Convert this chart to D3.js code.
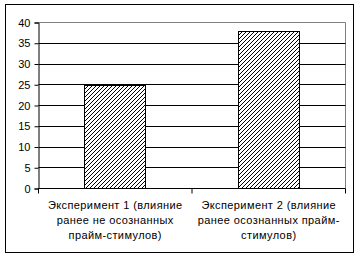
<!DOCTYPE html>
<html>
<head>
<meta charset="utf-8">
<script src="https://cdn.jsdelivr.net/npm/d3@7"></script>
<style>
  body { margin: 0; background: #fff; }
  text { font-family: "Liberation Sans", Arial, sans-serif; }
</style>
</head>
<body>
<div id="chart"></div>
<script>
// data
var categories = [
    ["Эксперимент 1 (влияние", "ранее не осознанных", "прайм-стимулов)"],
    ["Эксперимент 2 (влияние", "ранее осознанных прайм-", "стимулов)"]
];
var values = [24.8, 37.9];
var yTicks = [0, 5, 10, 15, 20, 25, 30, 35, 40];

var W = 360, H = 258;
var margin = { top: 22.5, right: 14.5, bottom: 69.5, left: 38.5 },
    width = W - margin.left - margin.right,
    height = H - margin.top - margin.bottom;

var svg = d3.select("#chart").append("svg")
    .attr("width", W)
    .attr("height", H);

// hatch pattern: 1px staircase "/" lines, 4px apart, aligned to device pixels
var pat = svg.append("defs").append("pattern")
    .attr("id", "hatch")
    .attr("patternUnits", "userSpaceOnUse")
    .attr("x", 0.5).attr("y", 0.5)
    .attr("width", 4)
    .attr("height", 4);
pat.append("rect").attr("width", 4).attr("height", 4).attr("fill", "#fff");
pat.selectAll(".px")
    .data([0, 1, 2, 3])
    .enter()
    .append("rect")
    .attr("x", function (d) { return d; })
    .attr("y", function (d) { return 3 - d; })
    .attr("width", 1).attr("height", 1)
    .attr("fill", "#000")
    .attr("shape-rendering", "crispEdges");

// outer frame
svg.append("rect")
    .attr("x", 5.5).attr("y", 4.5)
    .attr("width", 348).attr("height", 248)
    .attr("fill", "none").attr("stroke", "#000");

var g = svg.append("g")
    .attr("transform", "translate(" + margin.left + "," + margin.top + ")");

var x = d3.scaleBand()
    .domain(d3.range(categories.length))
    .range([0, width])
    .paddingInner(0.6)
    .paddingOuter(0.3);

var y = d3.scaleLinear()
    .domain([0, 40])
    .range([height, 0]);

// plot area border (grey top and right)
g.append("path")
    .attr("d", "M0,0H" + width + "V" + height)
    .attr("fill", "none").attr("stroke", "#808080");

// gridlines
g.append("g")
    .selectAll("line")
    .data(yTicks.filter(function (d) { return d > 0 && d < 40; }))
    .enter()
    .append("line")
    .attr("x1", 0).attr("x2", width)
    .attr("y1", function (d) { return Math.round(y(d)); })
    .attr("y2", function (d) { return Math.round(y(d)); })
    .attr("stroke", "#000");

// Y axis
var yAxis = g.append("g")
    .call(d3.axisLeft(y).tickValues(yTicks).tickSize(4).tickPadding(4));
yAxis.selectAll("text").style("font-size", "11px").attr("fill", "#000");
yAxis.selectAll("line, path").attr("stroke", "#000");

// bars
g.append("g")
    .selectAll("rect")
    .data(values)
    .enter()
    .append("rect")
    .attr("x", function (d, i) { return Math.round(x(i)); })
    .attr("y", function (d) { return Math.round(y(d)); })
    .attr("width", Math.round(x.bandwidth()))
    .attr("height", function (d) { return height - Math.round(y(d)); })
    .attr("fill", "url(#hatch)")
    .attr("stroke", "#000");

// X axis
var xAxis = g.append("g")
    .attr("transform", "translate(0," + height + ")");
xAxis.append("line")
    .attr("x1", 0).attr("x2", width)
    .attr("stroke", "#000");
xAxis.selectAll(".tk")
    .data([0, width / 2, width])
    .enter()
    .append("line")
    .attr("class", "tk")
    .attr("x1", function (d) { return d; })
    .attr("x2", function (d) { return d; })
    .attr("y1", 0).attr("y2", 5)
    .attr("stroke", "#000");

// category labels
xAxis.selectAll(".lbl")
    .data(categories)
    .enter()
    .append("text")
    .attr("class", "lbl")
    .attr("text-anchor", "middle")
    .style("font-size", "11px")
    .style("letter-spacing", "0.4px")
    .attr("fill", "#000")
    .each(function (lines, i) {
        var t = d3.select(this);
        lines.forEach(function (s, k) {
            t.append("tspan")
                .attr("x", x(i) + x.bandwidth() / 2)
                .attr("y", 20 + k * 15)
                .text(s);
        });
    });
</script>
</body>
</html>
